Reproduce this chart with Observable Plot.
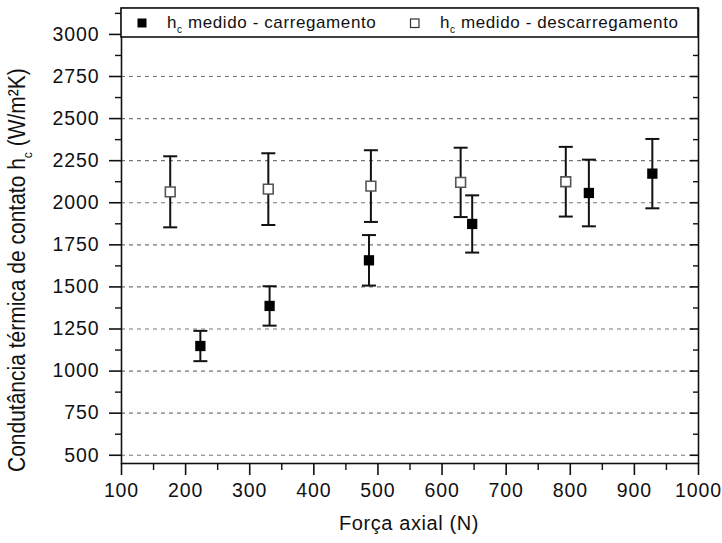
<!DOCTYPE html>
<html><head><meta charset="utf-8">
<script src="https://cdn.jsdelivr.net/npm/d3@7"></script>
<script src="https://cdn.jsdelivr.net/npm/@observablehq/plot@0.6"></script>
<style>html,body{margin:0;padding:0;background:#fff} svg{display:block}</style>
</head><body><div id="chart"></div>
<script>
// Carregamento (loading) — filled squares
const forceLoad = [223, 331, 486, 647, 829, 928];
const hcLoad    = [1149, 1387, 1658, 1874, 2058, 2173];
const errLoad   = [90, 117, 150, 170, 198, 206];
// Descarregamento (unloading) — open squares
const forceUnload = [176, 329, 489, 629, 793];
const hcUnload    = [2065, 2081, 2099, 2121, 2125];
const errUnload   = [211, 213, 213, 206, 207];
// Axis ticks
const xMajor = [100, 200, 300, 400, 500, 600, 700, 800, 900, 1000];
const xMinor = [150, 250, 350, 450, 550, 650, 750, 850, 950];
const yMajor = [500, 750, 1000, 1250, 1500, 1750, 2000, 2250, 2500, 2750, 3000];
const yMinor = [625, 875, 1125, 1375, 1625, 1875, 2125, 2375, 2625, 2875, 3125];
const yGrid  = [500, 750, 1000, 1250, 1500, 1750, 2000, 2250, 2500, 2750];
const legendLabels = ["medido - carregamento", "medido - descarregamento"];

const loadData = forceLoad.map((x, i) => ({x, y: hcLoad[i], e: errLoad[i]}));
const unloadData = forceUnload.map((x, i) => ({x, y: hcUnload[i], e: errUnload[i]}));

const W = 722, H = 543;
const mL = 121, mR = 24, mT = 8, mB = 80;
const font = "'Liberation Sans', Arial, sans-serif";

const hline = {draw(ctx, size) { const w = Math.sqrt(size); ctx.moveTo(-w / 2, 0); ctx.lineTo(w / 2, 0); }};

function errorMarks(data) {
  return [
    Plot.ruleX(data, {x: "x", y1: d => d.y - d.e, y2: d => d.y + d.e, stroke: "#111", strokeWidth: 2}),
    Plot.dot(data, {x: "x", y: d => d.y + d.e, symbol: hline, r: 7.9, stroke: "#111", strokeWidth: 2, fill: "none"}),
    Plot.dot(data, {x: "x", y: d => d.y - d.e, symbol: hline, r: 7.9, stroke: "#111", strokeWidth: 2, fill: "none"})
  ];
}

const chart = Plot.plot({
  width: W, height: H,
  marginLeft: mL, marginRight: mR, marginTop: mT, marginBottom: mB,
  style: {fontFamily: font, background: "#fff", color: "#111", letterSpacing: "0.9px"},
  x: {domain: [100, 1000]},
  y: {domain: [451, 3154]},
  marks: [
    Plot.gridY(yGrid, {stroke: "#777", strokeOpacity: 1, strokeWidth: 1.2, strokeDasharray: "4,4"}),
    ...errorMarks(unloadData),
    ...errorMarks(loadData),
    Plot.dot(unloadData, {x: "x", y: "y", symbol: "square", r: 5.5, fill: "#fff", stroke: "#555", strokeWidth: 1.6}),
    Plot.dot(loadData, {x: "x", y: "y", symbol: "square", r: 5.8, fill: "#000", stroke: "none"}),
    Plot.axisY(yMajor, {tickSize: 12, tickPadding: 10, fontSize: 19.5, tickFormat: d => String(d), label: null, strokeWidth: 1.6}),
    Plot.axisY(yMinor, {tickSize: 6, text: null, label: null, strokeWidth: 1.4}),
    Plot.axisY(yMajor, {anchor: "right", tickSize: 9, dx: -9, text: null, label: null, strokeWidth: 1.6}),
    Plot.axisY(yMinor, {anchor: "right", tickSize: 6, dx: -6, text: null, label: null, strokeWidth: 1.4}),
    Plot.axisX(xMajor, {tickSize: 12, tickPadding: 8, fontSize: 19.5, tickFormat: d => String(d), label: null, strokeWidth: 1.6}),
    Plot.axisX(xMinor, {tickSize: 7, text: null, label: null, strokeWidth: 1.4}),
    Plot.frame({stroke: "#111", strokeWidth: 1.6})
  ]
});

const svg = d3.select(chart);
// Legend box
const lg = svg.append("g").attr("font-family", font).attr("font-size", 17).attr("fill", "#111")
  .attr("text-anchor", "start").attr("letter-spacing", "0.6px");
lg.append("rect").attr("x", mL).attr("y", mT).attr("width", W - mL - mR).attr("height", 29)
  .attr("fill", "#fff").attr("stroke", "#111").attr("stroke-width", 1.6);
lg.append("rect").attr("x", 137.5).attr("y", 18.5).attr("width", 9).attr("height", 9).attr("fill", "#000");
lg.append("rect").attr("x", 410.5).attr("y", 19).attr("width", 8.5).attr("height", 8.5).attr("fill", "#fff").attr("stroke", "#333").attr("stroke-width", 1.2);
[[167, legendLabels[0]], [440, legendLabels[1]]].forEach(([x, lab]) => {
  const t = lg.append("text").attr("x", x).attr("y", 28);
  t.append("tspan").text("h");
  t.append("tspan").attr("font-size", 10).attr("dy", 5).text("c");
  t.append("tspan").attr("dy", -5).text(" " + lab);
});
// Axis titles
svg.append("text").attr("x", 409).attr("y", 530).attr("text-anchor", "middle")
  .attr("font-family", font).attr("font-size", 20).attr("letter-spacing", "0.6px").attr("fill", "#111").text("Força axial (N)");
const yt = svg.append("text").attr("transform", "translate(25,472) rotate(-90) scale(1,1.12)").attr("text-anchor", "start")
  .attr("font-family", font).attr("font-size", 21).attr("letter-spacing", "0px").attr("fill", "#111");
yt.append("tspan").text("Condutância térmica de contato h");
yt.append("tspan").attr("font-size", 12).attr("dy", 6).text("c");
yt.append("tspan").attr("dy", -6).text(" (W/m²K)");

document.getElementById("chart").append(chart);
</script>
</body></html>
